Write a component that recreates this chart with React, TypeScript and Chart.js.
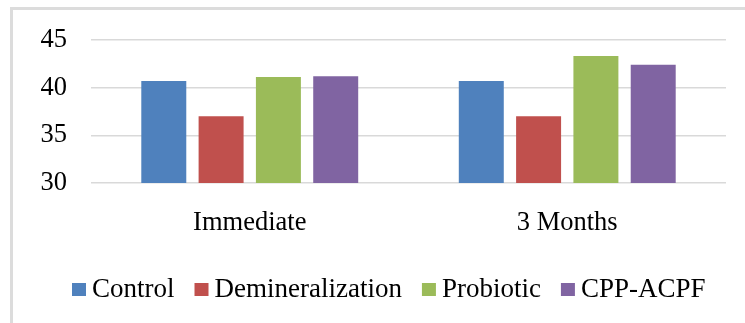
import { useEffect, useRef } from "react";
import { Chart, registerables } from "chart.js";

Chart.register(...registerables);

// Categories and series values
const categories = ["Immediate", "3 Months"];
const seriesNames = ["Control", "Demineralization", "Probiotic", "CPP-ACPF"];
const control = [40.7, 40.7];
const demineralization = [37.0, 37.0];
const probiotic = [41.1, 43.3];
const cppAcpf = [41.2, 42.4];
const yTicks = [30, 35, 40, 45];

const seriesValues = [control, demineralization, probiotic, cppAcpf];
const seriesColors = ["#4F81BD", "#C0504D", "#9BBB59", "#8064A2"];

const FONT = "'Liberation Serif', 'Times New Roman', serif";

// Legend row drawn under the category labels: small square swatch + name
const bottomLegend = {
  id: "bottomLegend",
  afterDraw(chart: any) {
    const ctx = chart.ctx;
    ctx.save();
    ctx.font = `27px ${FONT}`;
    ctx.textBaseline = "alphabetic";
    ctx.textAlign = "left";
    let x = 72;
    chart.data.datasets.forEach((ds: any) => {
      ctx.fillStyle = ds.backgroundColor;
      ctx.fillRect(x, 283, 14, 13);
      ctx.fillStyle = "#000";
      ctx.fillText(ds.label, x + 20, 297);
      x += 20 + ctx.measureText(ds.label).width + 20;
    });
    ctx.restore();
  },
};

export default function App() {
  const canvasRef = useRef<HTMLCanvasElement | null>(null);

  useEffect(() => {
    if (!canvasRef.current) return;
    const chart = new Chart(canvasRef.current, {
      type: "bar",
      data: {
        labels: categories,
        datasets: seriesNames.map((name, i) => ({
          label: name,
          data: seriesValues[i],
          backgroundColor: seriesColors[i],
          borderWidth: 0,
          categoryPercentage: 0.722,
          barPercentage: 0.785,
        })),
      },
      options: {
        responsive: false,
        animation: false,
        devicePixelRatio: 1,
        layout: { padding: { left: 0, top: 37, right: 19, bottom: 80 } },
        plugins: {
          legend: { display: false },
          tooltip: { enabled: false },
        },
        scales: {
          x: {
            grid: { display: false, drawTicks: false },
            border: { display: false },
            ticks: {
              color: "#000",
              padding: 24,
              font: { family: FONT, size: 26.5 },
            },
            afterFit(scale: any) {
              scale.height = 60;
            },
          },
          y: {
            min: 30,
            max: 45,
            afterBuildTicks(scale: any) {
              scale.ticks = yTicks.map((v) => ({ value: v }));
            },
            grid: { color: "#d9d9d9", lineWidth: 1.5, drawTicks: false },
            border: { display: false },
            ticks: {
              color: "#000",
              padding: 24,
              font: { family: FONT, size: 26.5 },
            },
            afterFit(scale: any) {
              scale.width = 91;
            },
          },
        },
      },
      plugins: [bottomLegend],
    });
    return () => chart.destroy();
  }, []);

  return (
    <div
      style={{
        position: "fixed",
        left: 0,
        top: 0,
        width: 745,
        height: 323,
        overflow: "hidden",
        background: "#fff",
      }}
    >
      <div
        style={{
          position: "absolute",
          left: 10,
          top: 7,
          width: 800,
          height: 400,
          border: "3px solid #dcdcdc",
        }}
      />
      <canvas
        ref={canvasRef}
        width={745}
        height={323}
        style={{ position: "absolute", left: 0, top: 0 }}
      />
    </div>
  );
}
